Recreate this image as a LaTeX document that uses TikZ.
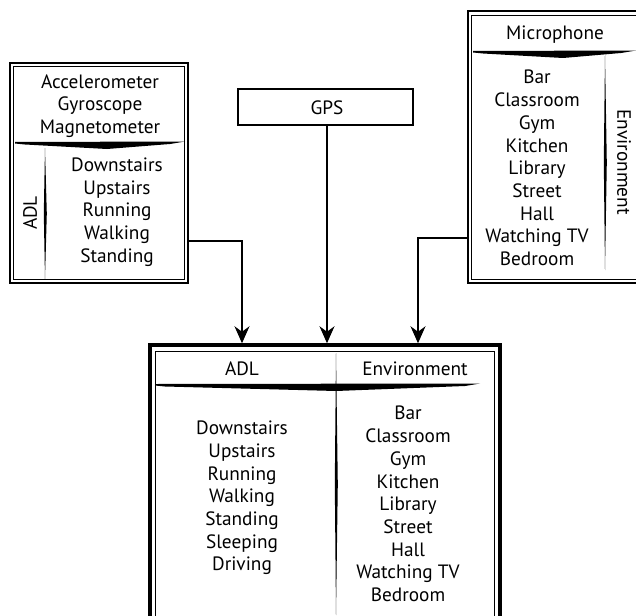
\documentclass[tikz,border=0pt]{standalone}
\usepackage{fontspec}
\setmainfont{PT Sans}
\usetikzlibrary{arrows.meta,positioning}

\tikzset{
  frame/.style={draw, line width=2.4pt, inner sep=0pt},
  inframe/.style={draw, line width=0.9pt},
  label/.style={font=\fontsize{19.3}{22.7}\selectfont, align=center, inner sep=0pt},
  flow/.style={line width=1.6pt, -{Stealth[length=17pt,width=15pt]}},
}

% brush strokes: x1, xmid, x2, y  /  x, y1, y2
\newcommand{\hbrush}[4]{\fill (#1,#4-1) -- (#3,#4-1.5) -- (#3-15,#4+1) -- (#2,#4+6) -- (#1+10,#4+1.5) -- (#1,#4+0.5) -- cycle;}
\newcommand{\vbrush}[3]{\fill (#1,#2) -- (#1+1.8,{(#2+#3)/2}) -- (#1,#3) -- (#1-1.2,{(#2+#3)/2}) -- cycle;}

\begin{document}
\begin{tikzpicture}[x=1pt, y=-1pt]
\useasboundingbox (0,0) rectangle (636,615);

% sensor boxes
\node[frame, minimum width=178pt, minimum height=220pt] (imu) at (99,173) {};
\draw[inframe] ([shift={(5pt,-5pt)}]imu.north west) rectangle ([shift={(-5pt,5pt)}]imu.south east);
\node[frame, line width=1.6pt, minimum width=175pt, minimum height=36pt] (gpsbox) at (325.5,107) {};
\node[frame, minimum width=182pt, minimum height=272pt] (mic) at (559,147) {};
\draw[inframe] ([shift={(5pt,-6pt)}]mic.north west) rectangle ([shift={(-5pt,5pt)}]mic.south east);

% fused box
\node[frame, line width=3.5pt, minimum width=350pt, minimum height=295pt] (fused) at (325,492.5) {};
\draw[inframe] ([shift={(7pt,-8pt)}]fused.north west) rectangle ([shift={(-7pt,7pt)}]fused.south east);

% dividers
\hbrush{15}{107}{185}{143}
\vbrush{45}{148}{279}
\hbrush{473}{563}{636}{52}
\vbrush{605}{55}{270}
\hbrush{155}{336}{480}{385}
\vbrush{336}{353}{615}

% texts
\node[label] (imuhead) at (100,106) {Accelerometer\\Gyroscope\\Magnetometer};
\node[label] (adllist) at (117,212) {Downstairs\\Upstairs\\Running\\Walking\\Standing};
\node[label, rotate=90] (adlside) at (30,213) {ADL};
\node[label] (gps) at (327,108) {GPS};
\node[label] (michead) at (555,35) {Microphone};
\node[label] (envlist) at (537,168) {Bar\\Classroom\\Gym\\Kitchen\\Library\\Street\\Hall\\Watching TV\\Bedroom};
\node[label, rotate=-90] (envside) at (624,162) {Environment};
\node[label] (adlhead) at (242,369) {ADL};
\node[label] (envhead) at (415,369) {Environment};
\node[label] (adlall) at (242,498) {Downstairs\\Upstairs\\Running\\Walking\\Standing\\Sleeping\\Driving};
\node[label] (envall) at (408,504) {Bar\\Classroom\\Gym\\Kitchen\\Library\\Street\\Hall\\Watching TV\\Bedroom};

% connectors
\draw[flow] ([yshift=-68pt]imu.east) -| (fused.north -| adlhead);
\draw[flow] (gpsbox.south -| gps) -- (fused.north -| gps);
\draw[flow] ([yshift=-91pt]mic.west) -| ([xshift=3pt]fused.north -| envhead);

\end{tikzpicture}
\end{document}
